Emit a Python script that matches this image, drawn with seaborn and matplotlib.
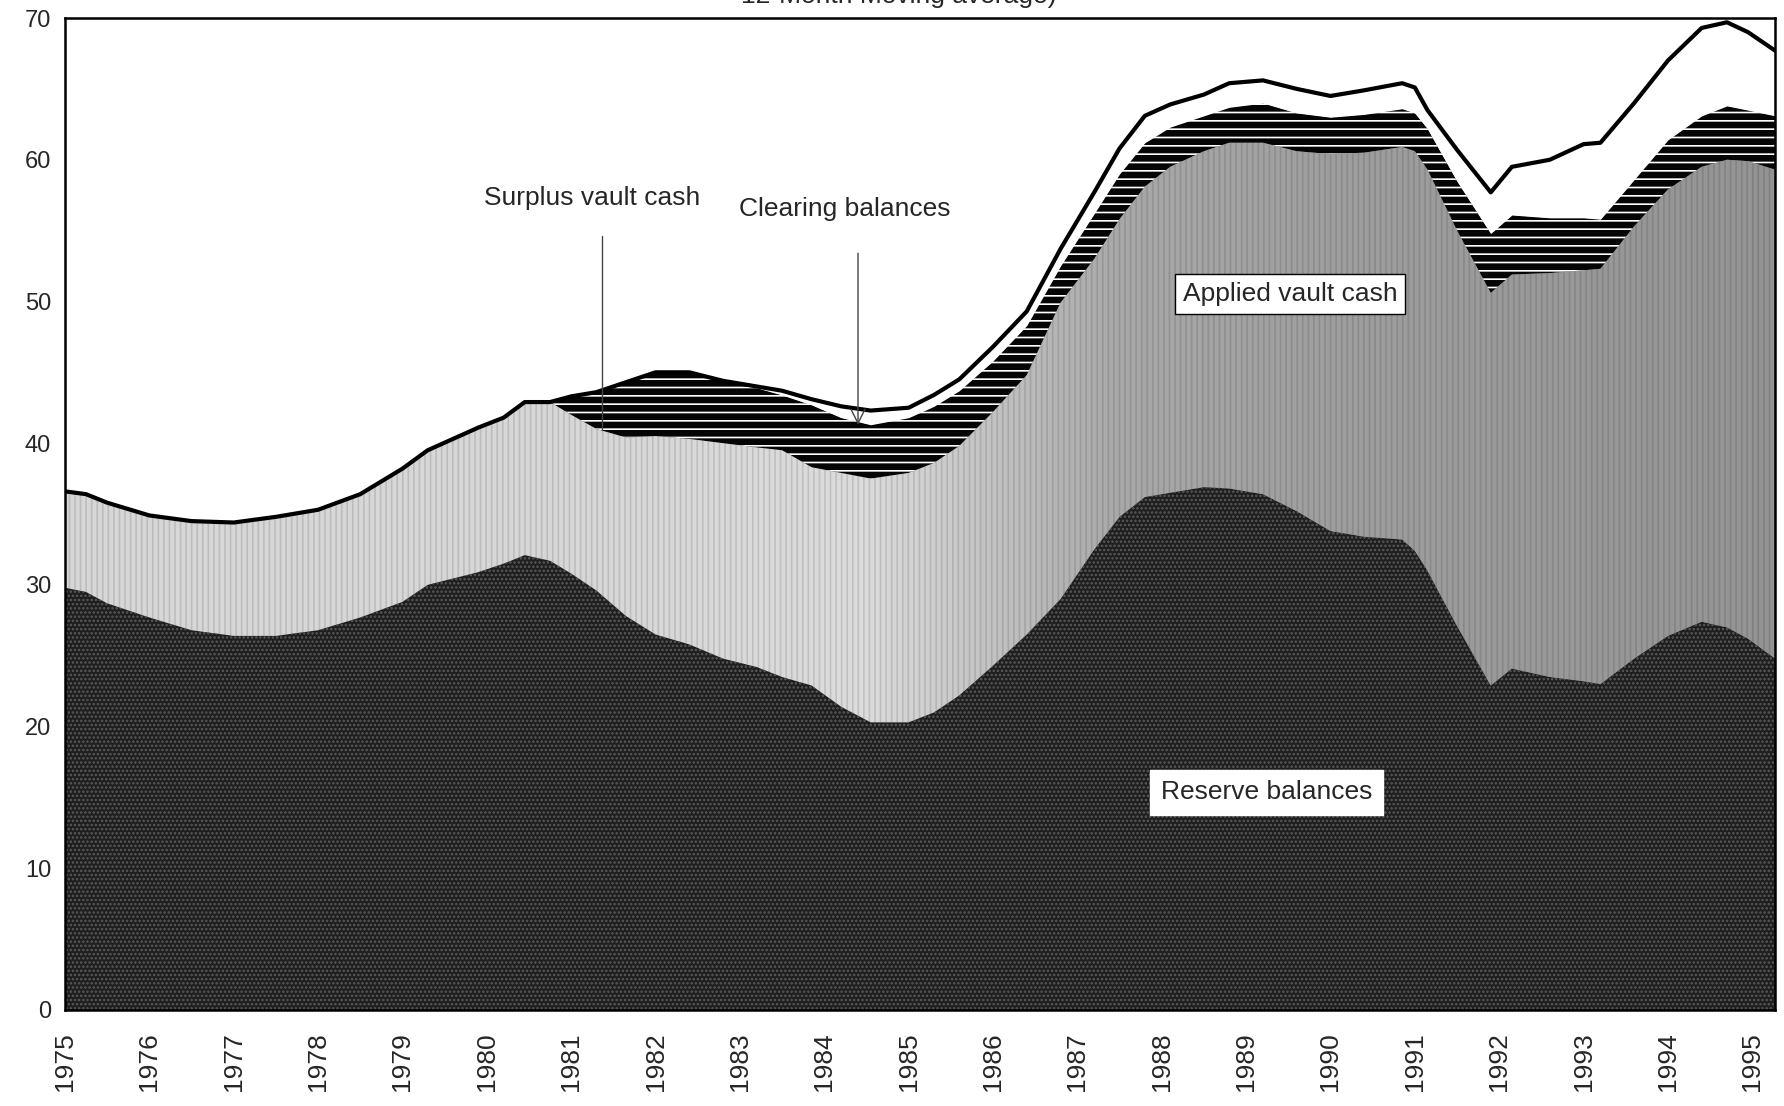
import matplotlib
matplotlib.use('Agg')
import matplotlib.pyplot as plt
import seaborn as sns
import numpy as np

# Reserve components, billions of dollars (12-month moving average)
years = [1975.0, 1975.25, 1975.5, 1976.0, 1976.5, 1977.0, 1977.5, 1978.0, 1978.5,
         1979.0, 1979.3, 1979.9, 1980.2, 1980.45, 1980.75, 1981.0, 1981.3, 1981.65,
         1982.0, 1982.4, 1982.8, 1983.2, 1983.5, 1983.85, 1984.2, 1984.55, 1985.0,
         1985.3, 1985.6, 1986.0, 1986.4, 1986.8, 1987.2, 1987.5, 1987.8, 1988.1,
         1988.5, 1988.8, 1989.2, 1989.6, 1990.0, 1990.4, 1990.85, 1991.0, 1991.15,
         1991.5, 1991.9, 1992.15, 1992.6, 1993.0, 1993.2, 1993.6, 1994.0, 1994.4,
         1994.7, 1994.95, 1995.27]
reserve = [29.8, 29.5, 28.7, 27.7, 26.8, 26.4, 26.4, 26.8, 27.7,
           28.8, 30.0, 30.9, 31.5, 32.1, 31.7, 30.8, 29.6, 27.8,
           26.5, 25.8, 24.8, 24.2, 23.5, 22.9, 21.4, 20.3, 20.3,
           21.0, 22.2, 24.3, 26.5, 29.0, 32.5, 34.8, 36.2, 36.5,
           36.9, 36.8, 36.4, 35.2, 33.8, 33.4, 33.2, 32.4, 31.0,
           27.1, 22.9, 24.1, 23.5, 23.2, 23.0, 24.8, 26.4, 27.4,
           27.0, 26.2, 24.8]
applied = [6.8, 6.9, 7.1, 7.2, 7.7, 8.0, 8.4, 8.5, 8.7,
           9.4, 9.5, 10.2, 10.3, 10.8, 11.2, 11.2, 11.4, 12.6,
           14.0, 14.5, 15.2, 15.5, 16.0, 15.4, 16.5, 17.2, 17.6,
           17.6, 17.6, 17.9, 18.3, 20.9, 20.5, 21.0, 21.9, 23.0,
           23.7, 24.4, 24.8, 25.4, 26.6, 27.1, 27.7, 28.2, 28.3,
           27.9, 27.7, 27.8, 28.5, 29.0, 29.3, 30.5, 31.5, 32.1,
           33.0, 33.7, 34.5]
clearing = [0, 0, 0, 0, 0, 0, 0, 0, 0,
            0, 0, 0, 0, 0, 0, 1.3, 2.6, 3.9,
            4.5, 4.7, 4.4, 4.2, 3.9, 4.4, 3.9, 3.8, 3.9,
            4.0, 3.9, 3.6, 3.5, 2.6, 3.2, 3.2, 3.1, 2.8,
            2.5, 2.5, 2.8, 2.7, 2.6, 2.7, 2.7, 2.7, 2.9,
            3.5, 4.2, 4.2, 3.9, 3.7, 3.5, 3.3, 3.5, 3.6,
            3.8, 3.6, 3.8]
surplus = [0, 0, 0, 0, 0, 0, 0, 0, 0,
           0, 0, 0, 0, 0, 0, 0, 0, 0,
           0, 0, 0, 0.1, 0.3, 0.4, 0.8, 1.0, 0.7,
           0.8, 0.8, 1.0, 1.0, 1.2, 1.5, 1.8, 1.9, 1.6,
           1.5, 1.7, 1.6, 1.7, 1.5, 1.7, 1.8, 1.8, 1.3,
           2.2, 2.9, 3.4, 4.1, 5.2, 5.4, 5.4, 5.6, 6.2,
           5.9, 5.5, 4.6]
year_ticks = list(range(1975, 1996))
value_ticks = list(range(0, 80, 10))

sns.set_style("white")
plt.rcParams['font.family'] = ['Liberation Sans', 'DejaVu Sans']
plt.rcParams['hatch.linewidth'] = 1.2

fig = plt.figure(figsize=(17.84, 11.06), dpi=100)
ax = fig.add_axes([0.0364, 0.0868, 0.9586, 0.8969])

layers = ax.stackplot(years, reserve, applied, clearing, surplus,
                      colors=['#1e1e1e', 'none', '#050505', 'white'],
                      linewidth=0)
# halftone / hatch textures of the original print
layers[0].set_hatch('....')
layers[0].set_edgecolor('#5a5a5a')
layers[1].set_hatch('|||')
layers[1].set_edgecolor((0, 0, 0, 0.12))
layers[2].set_hatch('--')
layers[2].set_edgecolor('white')
for coll in layers:
    coll.set_linewidth(0)

# grey shading of the applied vault cash band: light on the left, darker on the right
shade_x = np.linspace(1975, 1995.27, 400)
shade = np.interp(shade_x, [1975, 1981, 1984.5, 1987.5, 1990, 1995.27],
                  [0.84, 0.84, 0.86, 0.66, 0.62, 0.58])
shade_img = np.tile(shade, (50, 1))
im = ax.imshow(shade_img, extent=[1975, 1995.27, 0, 70], cmap='gray', vmin=0, vmax=1,
               aspect='auto', origin='lower', zorder=0.9, interpolation='bilinear')
im.set_clip_path(layers[1].get_paths()[0], ax.transData)

total = np.array(reserve) + np.array(applied) + np.array(clearing) + np.array(surplus)
ax.plot(years, total, color='black', lw=3)

ax.set_xlim(1975, 1995.27)
ax.set_ylim(0, 70)
ax.set_xticks(year_ticks)
ax.set_xticklabels([str(y) for y in year_ticks], rotation=90, fontsize=19)
ax.set_yticks(value_ticks)
ax.set_yticklabels([str(v) for v in value_ticks], fontsize=17)
ax.tick_params(axis='x', direction='out', length=10, width=1.2, pad=6, color='black')
ax.tick_params(axis='y', direction='out', length=6, width=1.2, pad=4, color='black')
for s in ax.spines.values():
    s.set_visible(True)
    s.set_color('black')
    s.set_linewidth(1.8)

# labels
ax.text(1981.25, 57.3, 'Surplus vault cash', fontsize=19, ha='center', va='center')
ax.plot([1981.37, 1981.37], [54.6, 41.0], color='#444444', lw=1)
ax.text(1984.24, 56.5, 'Clearing balances', fontsize=19, ha='center', va='center')
ax.annotate('', xy=(1984.4, 41.1), xytext=(1984.4, 53.6),
            arrowprops=dict(arrowstyle='->', color='#444444', lw=1, mutation_scale=25))
ax.text(1989.52, 50.5, 'Applied vault cash', fontsize=19, ha='center', va='center',
        bbox=dict(boxstyle='square,pad=0.3', facecolor='white', edgecolor='black', lw=1))
ax.text(1989.24, 15.35, 'Reserve balances', fontsize=19, ha='center', va='center',
        bbox=dict(boxstyle='square,pad=0.4', facecolor='white', edgecolor='white', lw=1))

fig.text(0.504, 1 - 3 / 1106, '12-Month Moving average)', fontsize=19,
         ha='center', va='baseline')

fig.savefig('out.png', dpi=100)
